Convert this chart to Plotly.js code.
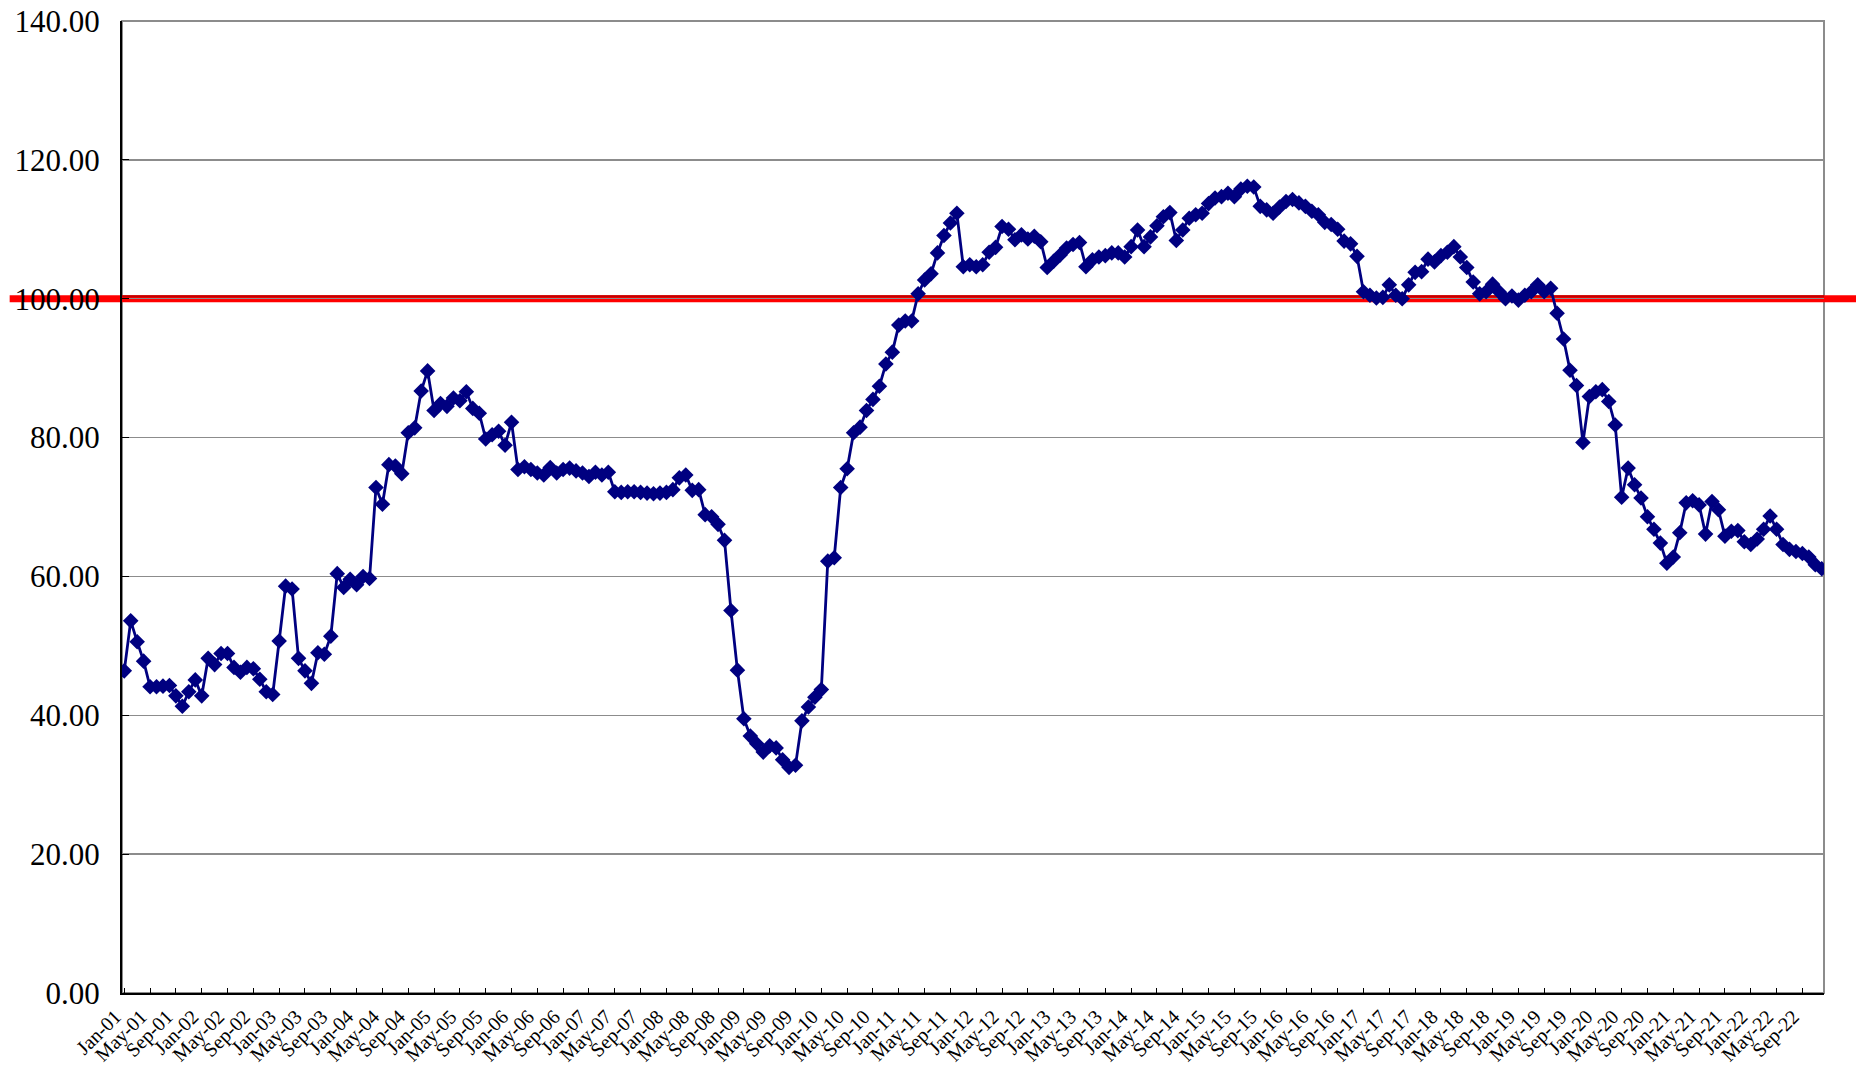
<!DOCTYPE html>
<html>
<head>
<meta charset="utf-8">
<script src="https://cdn.plot.ly/plotly-3.0.1.min.js"></script>
<style>
html,body{margin:0;padding:0;background:#fff;}
#chart{width:1856px;height:1067px;}
</style>
</head>
<body>
<div id="chart"></div>
<script>
// ---- data ----
const monthNames = ['Jan','Feb','Mar','Apr','May','Jun','Jul','Aug','Sep','Oct','Nov','Dec'];
const years = ['01','02','03','04','05','06','07','08','09','10','11','12','13','14','15','16','17','18','19','20','21','22'];
const indexValues = [
  46.4,53.6,50.6,47.8,44.1,44.1,44.2,44.3,42.8,41.3,43.4,45.1,
  42.8,48.2,47.3,48.9,48.9,46.9,46.2,46.9,46.7,45.2,43.4,43.0,
  50.7,58.6,58.2,48.2,46.4,44.6,49.0,48.8,51.4,60.4,58.4,59.6,
  58.8,60.0,59.7,72.8,70.4,76.1,75.9,74.8,80.7,81.4,86.7,89.6,
  83.9,84.9,84.5,85.7,85.3,86.6,84.2,83.5,79.8,80.4,80.9,78.9,
  82.2,75.4,75.8,75.4,74.9,74.6,75.7,74.9,75.4,75.6,75.2,74.9,
  74.4,75.0,74.6,75.0,72.2,72.1,72.2,72.2,72.1,72.0,71.9,72.0,
  72.1,72.5,74.2,74.6,72.4,72.5,68.9,68.6,67.5,65.2,55.1,46.5,
  39.5,37.0,35.9,34.7,35.6,35.3,33.6,32.5,32.8,39.2,41.2,42.6,
  43.7,62.2,62.7,72.8,75.5,80.7,81.5,83.9,85.5,87.4,90.6,92.3,
  96.2,96.8,96.8,100.7,102.7,103.6,106.6,109.1,110.9,112.3,104.6,104.9,
  104.6,104.9,106.7,107.4,110.4,110.0,108.5,109.2,108.6,109.0,108.2,104.5,
  105.4,106.3,107.3,107.8,108.1,104.6,105.6,106.0,106.2,106.6,106.6,106.0,
  107.5,109.9,107.5,108.9,110.5,111.8,112.4,108.4,109.9,111.6,112.1,112.3,
  113.7,114.5,114.7,115.2,114.7,115.8,116.2,116.1,113.3,112.8,112.3,113.2,
  114.0,114.3,113.8,113.3,112.6,112.1,111.0,110.7,110.0,108.3,107.9,106.1,
  101.0,100.5,100.1,100.2,102.0,100.5,100.0,102.0,103.8,103.9,105.7,105.3,
  106.2,106.7,107.5,106.0,104.5,102.4,100.7,101.0,102.1,101.0,100.0,100.4,
  99.8,100.5,101.0,102.0,101.0,101.5,97.9,94.2,89.7,87.5,79.3,85.9,
  86.6,86.9,85.2,81.8,71.4,75.6,73.2,71.3,68.6,66.8,64.8,61.9,
  62.8,66.3,70.6,70.9,70.3,66.1,70.8,69.6,65.8,66.5,66.6,65.0,
  64.6,65.4,66.8,68.7,66.8,64.6,63.9,63.6,63.3,62.8,61.7,61.1
];
const referenceLevel = 100;
const yTicks = [0,20,40,60,80,100,120,140];

// ---- build categories ----
const categories = [];
years.forEach(y => monthNames.forEach(m => categories.push(m + '-' + y)));
const tickCats = categories.filter((c, i) => i % 4 === 0);

const FONT = "'Liberation Serif', 'Times New Roman', serif";

const trace = {
  type: 'scatter',
  mode: 'lines+markers',
  x: categories,
  y: indexValues,
  line: {color: '#000080', width: 2.8},
  marker: {symbol: 'diamond', size: 12, color: '#000080'},
  hoverinfo: 'x+y'
};

const layout = {
  width: 1856,
  height: 1067,
  margin: {l: 122, r: 32, t: 21, b: 74},
  paper_bgcolor: '#ffffff',
  plot_bgcolor: '#ffffff',
  showlegend: false,
  font: {family: FONT, color: '#000000'},
  xaxis: {
    type: 'category',
    range: [-0.35, categories.length - 1 + 0.35],
    tickmode: 'array',
    tickvals: tickCats,
    ticktext: tickCats,
    tickangle: -45,
    tickfont: {family: FONT, size: 20, color: '#000'},
    ticks: 'inside',
    ticklen: 5,
    tickcolor: '#000',
    tickwidth: 1,
    showgrid: false,
    showline: true,
    linecolor: '#000',
    linewidth: 2,
    zeroline: false,
    ticklabelstandoff: 2,
    ticklabelshift: -9
  },
  yaxis: {
    range: [0, 140],
    tickmode: 'array',
    tickvals: yTicks,
    tickformat: '.2f',
    tickfont: {family: FONT, size: 31, color: '#000'},
    ticks: 'inside',
    ticklen: 7,
    tickcolor: '#000',
    showgrid: true,
    gridcolor: '#8c8c8c',
    gridwidth: 1.5,
    showline: true,
    linecolor: '#000',
    linewidth: 2,
    zeroline: false,
    ticklabelstandoff: 14
  },
  shapes: [
    {type: 'rect', xref: 'paper', yref: 'paper', x0: 0, x1: 1, y0: 0, y1: 1,
     line: {color: '#8c8c8c', width: 2}, layer: 'below'},
    {type: 'line', xref: 'paper', yref: 'y', x0: -0.066, x1: 1.02,
     y0: referenceLevel, y1: referenceLevel,
     line: {color: '#ff0000', width: 7}, layer: 'below'},
    {type: 'line', xref: 'paper', yref: 'y', x0: 0, x1: 1,
     y0: referenceLevel + 0.35, y1: referenceLevel + 0.35,
     line: {color: '#c00000', width: 2}, layer: 'below'}
  ]
};

Plotly.newPlot('chart', [trace], layout, {displayModeBar: false, staticPlot: true});
</script>
</body>
</html>
